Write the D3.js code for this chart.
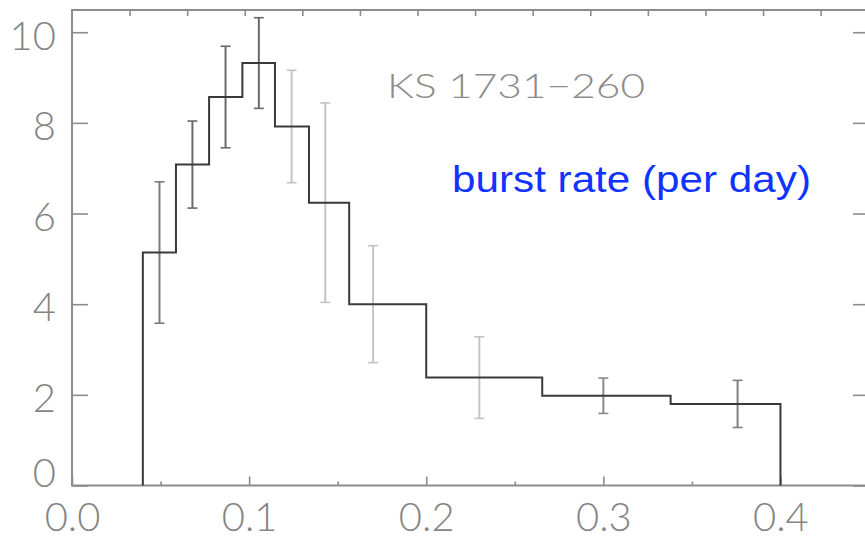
<!DOCTYPE html>
<html>
<head>
<meta charset="utf-8">
<script src="https://cdn.jsdelivr.net/npm/d3@7"></script>
<style>
  html, body { margin: 0; padding: 0; background: #fff; }
  svg { display: block; }
</style>
</head>
<body>
<svg id="chart" width="865" height="555"></svg>
<script>
// Histogram of burst rate for KS 1731-260: bin edges, rates per bin and 1-sigma errors
const binEdges = [0.040, 0.0587, 0.0774, 0.0962, 0.1146, 0.1338, 0.1565, 0.200, 0.2655, 0.338, 0.400];
const rates    = [5.14, 7.08, 8.57, 9.32, 7.92, 6.24, 4.00, 2.38, 1.98, 1.80];
const errX     = [0.0494, 0.068, 0.0867, 0.1055, 0.124, 0.143, 0.170, 0.230, 0.300, 0.3758];
const errs     = [1.56, 0.96, 1.12, 1.00, 1.24, 2.20, 1.29, 0.90, 0.39, 0.52];

// Axis ticks
const xMajorTicks = [0.0, 0.1, 0.2, 0.3, 0.4];
const xMinorTicks = [0.05, 0.15, 0.25, 0.35];
const yTicks = [0, 2, 4, 6, 8, 10];
const topTicks = [1, 2, 3, 4, 5, 6, 7, 8, 9, 10, 11, 12, 13];

const sourceName = "KS 1731\u2212260";
const panelLabel = "burst rate (per day)";

// Error bar shading per bin
const errTone = ["#7a7a7a", "#6a6a6a", "#6a6a6a", "#6a6a6a", "#c4c4c4", "#c4c4c4", "#c4c4c4", "#c4c4c4", "#8a8a8a", "#808080"];

const svg = d3.select("#chart");
const frame = { left: 72, right: 869, top: 10, bottom: 485.5 };

const x = d3.scaleLinear().domain([0, 0.45]).range([frame.left, frame.right]);
const y = d3.scaleLinear().domain([0, 10.49]).range([frame.bottom, frame.top]);
const xTop = d3.scaleLinear().domain([0, 13.84]).range([frame.left, frame.right]);

const axisColor = "#8c8c8c";
const labelFont = "Lato, 'DejaVu Sans', sans-serif";

// Frame
svg.append("rect")
  .attr("x", frame.left).attr("y", frame.top)
  .attr("width", frame.right - frame.left).attr("height", frame.bottom - frame.top)
  .attr("fill", "none").attr("stroke", axisColor).attr("stroke-width", 2);

function styleAxis(g) {
  g.select(".domain").remove();
  g.selectAll(".tick line").attr("stroke", axisColor).attr("stroke-width", 1.6);
}

// Left axis
const gLeft = svg.append("g").attr("transform", `translate(${frame.left},0)`)
  .call(d3.axisLeft(y).tickValues(yTicks).tickSize(-16).tickPadding(16).tickFormat(d3.format("d")));
styleAxis(gLeft);
gLeft.selectAll(".tick text")
  .attr("fill", "#858585").attr("font-family", labelFont).attr("font-weight", 300)
  .attr("font-size", 40)
  .attr("dy", d => d === 0 ? "0.02em" : "0.42em");

// Right axis
const gRight = svg.append("g").attr("transform", `translate(${frame.right},0)`)
  .call(d3.axisRight(y).tickValues(yTicks).tickSize(-16).tickFormat(""));
styleAxis(gRight);

// Bottom axis: labelled major ticks and short minor ticks
const gBottom = svg.append("g").attr("transform", `translate(0,${frame.bottom})`)
  .call(d3.axisBottom(x).tickValues(xMajorTicks).tickSize(-9).tickPadding(17).tickFormat(d3.format(".1f")));
styleAxis(gBottom);
gBottom.selectAll(".tick text")
  .attr("fill", "#858585").attr("font-family", labelFont).attr("font-weight", 300)
  .attr("font-size", 40);
const gBottomMinor = svg.append("g").attr("transform", `translate(0,${frame.bottom})`)
  .call(d3.axisBottom(x).tickValues(xMinorTicks).tickSize(-4).tickFormat(""));
styleAxis(gBottomMinor);

// Top axis (unlabelled)
const gTop = svg.append("g").attr("transform", `translate(0,${frame.top})`)
  .call(d3.axisTop(xTop).tickValues(topTicks).tickSize(-6).tickFormat(""));
styleAxis(gTop);

// Error bars
const capHalf = 5;
const eb = svg.append("g").selectAll("g").data(errX).join("g");
eb.append("line")
  .attr("x1", d => x(d)).attr("x2", d => x(d))
  .attr("y1", (d, i) => y(rates[i] + errs[i])).attr("y2", (d, i) => y(rates[i] - errs[i]))
  .attr("stroke", (d, i) => errTone[i]).attr("stroke-width", 2);
eb.append("line")
  .attr("x1", d => x(d) - capHalf).attr("x2", d => x(d) + capHalf)
  .attr("y1", (d, i) => y(rates[i] + errs[i])).attr("y2", (d, i) => y(rates[i] + errs[i]))
  .attr("stroke", (d, i) => errTone[i]).attr("stroke-width", 1.6);
eb.append("line")
  .attr("x1", d => x(d) - capHalf).attr("x2", d => x(d) + capHalf)
  .attr("y1", (d, i) => y(rates[i] - errs[i])).attr("y2", (d, i) => y(rates[i] - errs[i]))
  .attr("stroke", (d, i) => errTone[i]).attr("stroke-width", 1.6);

// Stepped histogram outline
const last = binEdges.length - 1;
const stepPts = [[binEdges[0], 0]]
  .concat(rates.map((r, i) => [binEdges[i], r]))
  .concat([[binEdges[last], rates[rates.length - 1]], [binEdges[last], 0]]);
const stepLine = d3.line().x(d => x(d[0])).y(d => y(d[1])).curve(d3.curveStepAfter);
svg.append("path").datum(stepPts)
  .attr("d", stepLine)
  .attr("fill", "none").attr("stroke", "#3a3a3a").attr("stroke-width", 2)
  .attr("stroke-linejoin", "miter");

// Source name and panel label
svg.append("text")
  .attr("x", 387).attr("y", 98)
  .attr("font-family", labelFont).attr("font-weight", 300).attr("font-size", 33)
  .attr("fill", "#8c8c8c")
  .attr("textLength", 258).attr("lengthAdjust", "spacingAndGlyphs")
  .text(sourceName);

svg.append("text")
  .attr("x", 452).attr("y", 192)
  .attr("font-family", "'Liberation Sans', Arial, sans-serif").attr("font-size", 36)
  .attr("fill", "#1133ff")
  .attr("textLength", 359).attr("lengthAdjust", "spacingAndGlyphs")
  .text(panelLabel);
</script>
</body>
</html>
